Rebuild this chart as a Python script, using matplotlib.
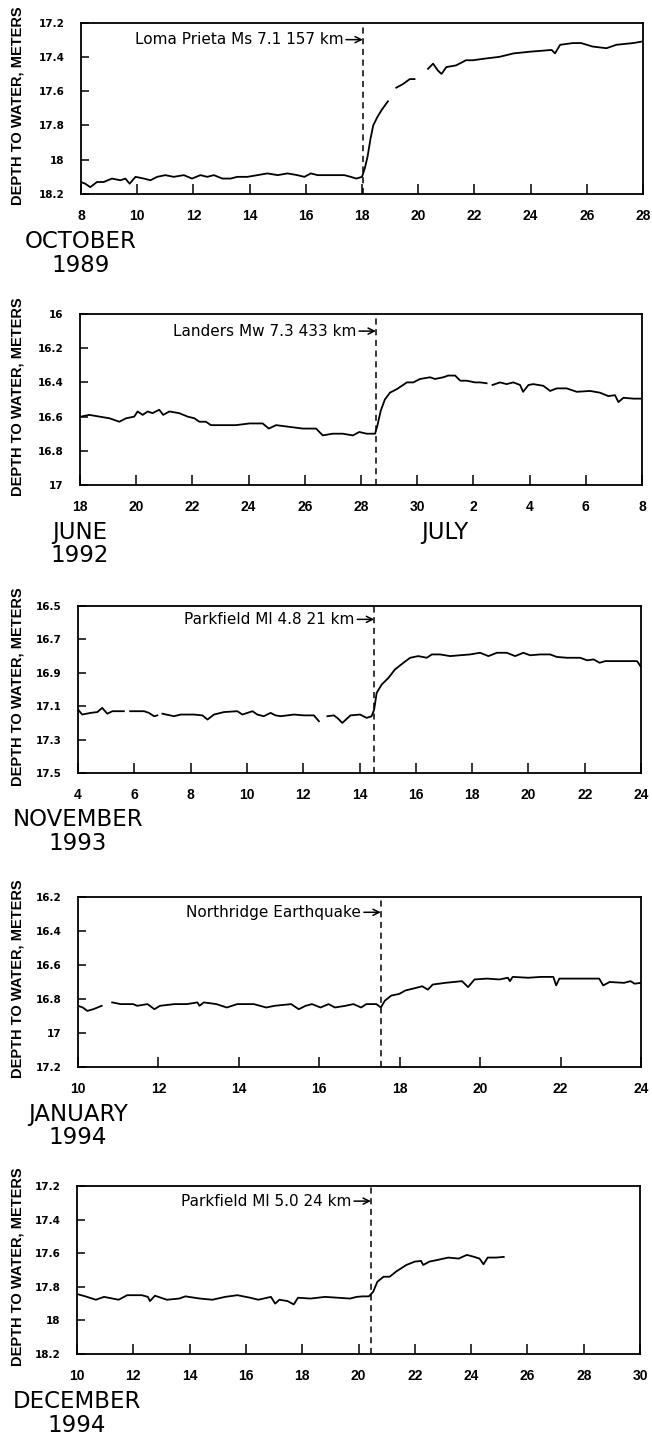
import matplotlib
matplotlib.use("Agg")
import matplotlib.pyplot as plt
import numpy as np

nan = np.nan

# October 1989, Loma Prieta
oct_day = [8.0, 8.15, 8.33, 8.57, 8.81, 9.1, 9.4, 9.58, 9.73, 9.94, 10.24, 10.47, 10.71, 11.0, 11.3,
           11.66, 11.95, 12.25, 12.49, 12.73, 13.03, 13.32, 13.56, 13.92, 14.28, 14.63, 15.0, 15.35,
           15.7, 15.95, 16.18, 16.42, 16.9, 17.37, 17.6, 17.8, 18.0, 18.1, 18.2, 18.3, 18.4, 18.55,
           18.7, 18.92, nan, 19.22, 19.45, 19.7, 19.87, nan, 20.35, 20.53, 20.7, 20.83, 21.0, 21.35,
           21.7, 21.95, 22.4, 22.9, 23.4, 24.0, 24.75, 24.87, 25.05, 25.5, 25.8, 26.2, 26.7, 27.05,
           27.65, 28.0]
oct_depth = [18.13, 18.14, 18.16, 18.13, 18.13, 18.11, 18.12, 18.11, 18.14, 18.10, 18.11, 18.12, 18.10,
             18.09, 18.10, 18.09, 18.11, 18.09, 18.10, 18.09, 18.11, 18.11, 18.10, 18.10, 18.09, 18.08,
             18.09, 18.08, 18.09, 18.10, 18.08, 18.09, 18.09, 18.09, 18.10, 18.11, 18.10, 18.05, 17.98,
             17.88, 17.80, 17.75, 17.71, 17.66, nan, 17.58, 17.56, 17.53, 17.53, nan, 17.47, 17.44,
             17.48, 17.50, 17.46, 17.45, 17.42, 17.42, 17.41, 17.40, 17.38, 17.37, 17.36, 17.38, 17.33,
             17.32, 17.32, 17.34, 17.35, 17.33, 17.32, 17.31]

# June-July 1992, Landers (day numbers continue past June 30)
jun_day = [18.04, 18.33, 18.69, 19.05, 19.4, 19.64, 19.93, 20.05, 20.23, 20.41, 20.58, 20.82, 20.96,
           21.18, 21.53, 21.83, 22.07, 22.25, 22.48, 22.66, 23.08, 23.55, 24.03, 24.5, 24.72, 24.98,
           25.45, 25.93, 26.4, 26.64, 26.99, 27.35, 27.71, 27.94, 28.2, 28.5, 28.58, 28.7, 28.85,
           29.03, 29.27, 29.5, 29.63, 29.86, 30.1, 30.46, 30.63, 30.93, 31.1, 31.35, 31.53, 31.76,
           32.06, 32.24, 32.47, nan, 32.68, 32.95, 33.18, 33.42, 33.66, 33.77, 33.96, 34.13, 34.49,
           34.73, 34.96, 35.32, 35.68, 36.15, 36.5, 36.8, 37.04, 37.16, 37.34, 37.7, 38.0]
jun_depth = [16.60, 16.59, 16.60, 16.61, 16.63, 16.61, 16.60, 16.57, 16.59, 16.57, 16.58, 16.56, 16.59,
             16.57, 16.58, 16.60, 16.61, 16.63, 16.63, 16.65, 16.65, 16.65, 16.64, 16.64, 16.67, 16.65,
             16.66, 16.67, 16.67, 16.71, 16.70, 16.70, 16.71, 16.69, 16.70, 16.70, 16.655, 16.567, 16.50,
             16.46, 16.44, 16.415, 16.40, 16.40, 16.38, 16.37, 16.38, 16.37, 16.36, 16.36, 16.39, 16.39,
             16.40, 16.40, 16.405, nan, 16.415, 16.40, 16.41, 16.40, 16.415, 16.455, 16.415, 16.41,
             16.42, 16.45, 16.435, 16.435, 16.455, 16.45, 16.46, 16.48, 16.475, 16.515, 16.49, 16.495,
             16.495]

# November 1993, Parkfield 4.8
nov_day = [4.0, 4.15, 4.45, 4.69, 4.86, 5.04, 5.22, 5.45, 5.63, nan, 5.85, 6.1, 6.35, 6.52, 6.7, 6.82,
           nan, 7.0, 7.41, 7.65, 8.12, 8.42, 8.6, 8.83, 9.19, 9.66, 9.84, 10.2, 10.37, 10.6, 10.84,
           11.02, 11.2, 11.67, 12.03, 12.38, 12.56, nan, 12.86, 13.09, 13.21, 13.39, 13.68, 14.02,
           14.25, 14.43, 14.52, 14.61, 14.79, 15.03, 15.26, 15.56, 15.8, 16.09, 16.39, 16.57, 16.86,
           17.22, 17.57, 17.93, 18.28, 18.58, 18.88, 19.23, 19.53, 19.82, 20.06, 20.42, 20.77, 21.01,
           21.37, 21.84, 22.08, 22.32, 22.53, 22.73, 23.15, 23.5, 23.86, 23.98]
nov_depth = [17.12, 17.15, 17.14, 17.135, 17.11, 17.145, 17.13, 17.13, 17.13, nan, 17.13, 17.13, 17.13,
             17.14, 17.16, 17.155, nan, 17.145, 17.16, 17.15, 17.15, 17.155, 17.18, 17.15, 17.135,
             17.13, 17.15, 17.13, 17.15, 17.16, 17.14, 17.155, 17.16, 17.15, 17.155, 17.155, 17.19,
             nan, 17.16, 17.155, 17.17, 17.20, 17.155, 17.15, 17.17, 17.16, 17.12, 17.02, 16.97, 16.93,
             16.88, 16.84, 16.81, 16.80, 16.81, 16.79, 16.79, 16.80, 16.795, 16.79, 16.78, 16.80, 16.78,
             16.78, 16.80, 16.78, 16.795, 16.79, 16.79, 16.805, 16.81, 16.81, 16.825, 16.82, 16.84,
             16.83, 16.83, 16.83, 16.83, 16.86]

# January 1994, Northridge
jan_day = [10.0, 10.12, 10.23, 10.38, 10.59, nan, 10.85, 11.06, 11.37, 11.47, 11.73, 11.9, 12.04, 12.4,
           12.71, 12.97, 13.02, 13.13, 13.44, 13.7, 13.96, 14.37, 14.68, 14.89, 15.3, 15.49, 15.66,
           15.82, 16.03, 16.23, 16.39, 16.65, 16.85, 17.04, 17.17, 17.42, 17.53, 17.63, 17.79, 17.99,
           18.14, 18.4, 18.56, 18.7, 18.82, 19.13, 19.55, 19.7, 19.86, 20.17, 20.48, 20.69, 20.74,
           20.81, 21.2, 21.51, 21.82, 21.89, 21.97, 22.55, 22.96, 23.06, 23.22, 23.58, 23.74, 23.84,
           24.0]
jan_depth = [16.84, 16.85, 16.87, 16.86, 16.84, nan, 16.82, 16.83, 16.83, 16.84, 16.83, 16.86, 16.84,
             16.83, 16.83, 16.82, 16.84, 16.82, 16.83, 16.85, 16.83, 16.83, 16.85, 16.84, 16.83, 16.86,
             16.84, 16.83, 16.85, 16.83, 16.85, 16.84, 16.83, 16.85, 16.83, 16.83, 16.85, 16.81, 16.78,
             16.77, 16.75, 16.735, 16.725, 16.745, 16.715, 16.705, 16.695, 16.73, 16.685, 16.68,
             16.685, 16.675, 16.695, 16.67, 16.675, 16.67, 16.67, 16.72, 16.68, 16.68, 16.68, 16.72,
             16.70, 16.705, 16.695, 16.71, 16.705]

# December 1994, Parkfield 5.0
dec_day = [10.04, 10.3, 10.67, 10.96, 11.48, 11.78, 12.3, 12.52, 12.59, 12.77, 13.19, 13.63, 13.85,
           14.37, 14.81, 15.26, 15.7, 16.15, 16.44, 16.89, 17.04, 17.19, 17.48, 17.7, 17.85, 18.3,
           18.81, 19.26, 19.7, 19.93, 20.15, 20.37, 20.52, 20.67, 20.89, 21.11, 21.33, 21.7, 22.0,
           22.22, 22.3, 22.52, 22.81, 23.19, 23.56, 23.85, 24.07, 24.3, 24.44, 24.59, 24.89, 25.16]
dec_depth = [17.845, 17.857, 17.877, 17.86, 17.877, 17.85, 17.85, 17.86, 17.885, 17.853, 17.877, 17.87,
             17.857, 17.87, 17.877, 17.86, 17.85, 17.865, 17.877, 17.86, 17.90, 17.877, 17.885, 17.905,
             17.865, 17.87, 17.86, 17.865, 17.87, 17.86, 17.857, 17.857, 17.83, 17.77, 17.74, 17.74,
             17.71, 17.67, 17.65, 17.646, 17.67, 17.65, 17.64, 17.626, 17.632, 17.61, 17.62, 17.632,
             17.666, 17.626, 17.626, 17.622]

quake_day = [18.03, 28.53, 14.52, 17.53, 20.44]
quake_text = ["Loma Prieta Ms 7.1 157 km", "Landers Mw 7.3 433 km", "Parkfield Ml 4.8 21 km",
              "Northridge Earthquake", "Parkfield Ml 5.0 24 km"]
quake_text_depth = [17.30, 16.10, 16.58, 16.29, 17.29]

xlims = [(8, 28), (18, 38), (4, 24), (10, 24), (10, 30)]
ylims = [(18.2, 17.2), (17.0, 16.0), (17.5, 16.5), (17.2, 16.2), (18.2, 17.2)]
xticks = [list(range(8, 29, 2)), list(range(18, 39, 2)), list(range(4, 25, 2)),
          list(range(10, 25, 2)), list(range(10, 31, 2))]
xticklabels = [[str(v) for v in xticks[0]],
               ["18", "20", "22", "24", "26", "28", "30", "2", "4", "6", "8"],
               [str(v) for v in xticks[2]],
               [str(v) for v in xticks[3]],
               [str(v) for v in xticks[4]]]
yticks = [[17.2, 17.4, 17.6, 17.8, 18.0, 18.2], [16.0, 16.2, 16.4, 16.6, 16.8, 17.0],
          [16.5, 16.7, 16.9, 17.1, 17.3, 17.5], [16.2, 16.4, 16.6, 16.8, 17.0, 17.2],
          [17.2, 17.4, 17.6, 17.8, 18.0, 18.2]]
yticklabels = [["17.2", "17.4", "17.6", "17.8", "18", "18.2"],
               ["16", "16.2", "16.4", "16.6", "16.8", "17"],
               ["16.5", "16.7", "16.9", "17.1", "17.3", "17.5"],
               ["16.2", "16.4", "16.6", "16.8", "17", "17.2"],
               ["17.2", "17.4", "17.6", "17.8", "18", "18.2"]]
months = ["OCTOBER", "JUNE", "NOVEMBER", "JANUARY", "DECEMBER"]
years = ["1989", "1992", "1993", "1994", "1994"]

days = [oct_day, jun_day, nov_day, jan_day, dec_day]
depths = [oct_depth, jun_depth, nov_depth, jan_depth, dec_depth]

W, H = 652, 1437
# axes boxes in pixels: left, top, right, bottom
boxes = [(81, 22.5, 643, 194), (80, 314, 642, 485), (78, 606, 641, 773),
         (78, 897, 641, 1067), (77, 1186, 640, 1354)]

narrow = ["Liberation Sans Narrow", "DejaVu Sans"]
bold = ["Liberation Sans", "DejaVu Sans"]

fig = plt.figure(figsize=(W / 100, H / 100), dpi=100)

for i in range(5):
    l, t, r, b = boxes[i]
    ax = fig.add_axes([l / W, 1 - b / H, (r - l) / W, (b - t) / H])
    ax.plot(days[i], depths[i], color="black", lw=1.3)
    ax.set_xlim(*xlims[i])
    ax.set_ylim(*ylims[i])
    ax.axvline(quake_day[i], color="black", lw=1.1, ls=(0, (4, 3)))
    ax.annotate(quake_text[i], xy=(quake_day[i], quake_text_depth[i]),
                xytext=(quake_day[i] - 0.7 * (xlims[i][1] - xlims[i][0]) / 20, quake_text_depth[i]),
                ha="right", va="center", fontsize=11, family="DejaVu Sans",
                arrowprops=dict(arrowstyle="->", lw=1.1, color="black", shrinkA=0, shrinkB=0))

    ax.set_xticks(xticks[i])
    ax.set_xticklabels(xticklabels[i], fontsize=10, fontweight="bold", family=bold)
    ax.set_yticks(yticks[i])
    ax.set_yticklabels(yticklabels[i], fontsize=7.5, fontweight="bold", family=narrow)
    ax.tick_params(axis="x", direction="in", length=7, width=1.1, pad=11, top=False)
    ax.tick_params(axis="y", direction="in", length=6, width=1.1, pad=12, right=False)
    for s in ax.spines.values():
        s.set_linewidth(1.3)

    ax.annotate(months[i], xy=(xlims[i][0], 0), xycoords=("data", "axes fraction"),
                xytext=(0, -47), textcoords="offset pixels", ha="center", va="center",
                fontsize=16.5, family=narrow)
    ax.annotate(years[i], xy=(xlims[i][0], 0), xycoords=("data", "axes fraction"),
                xytext=(0, -71), textcoords="offset pixels", ha="center", va="center",
                fontsize=16.5, family=narrow)
    if i == 1:
        ax.annotate("JULY", xy=(31, 0), xycoords=("data", "axes fraction"),
                    xytext=(0, -47), textcoords="offset pixels", ha="center", va="center",
                    fontsize=16.5, family=narrow)

    fig.text(18 / W, 1 - ((t + b) / 2 - 3) / H, "DEPTH TO WATER, METERS", rotation=90,
             ha="center", va="center", fontsize=10.5, fontweight="bold", family=bold)

fig.savefig("out.png", dpi=100)
